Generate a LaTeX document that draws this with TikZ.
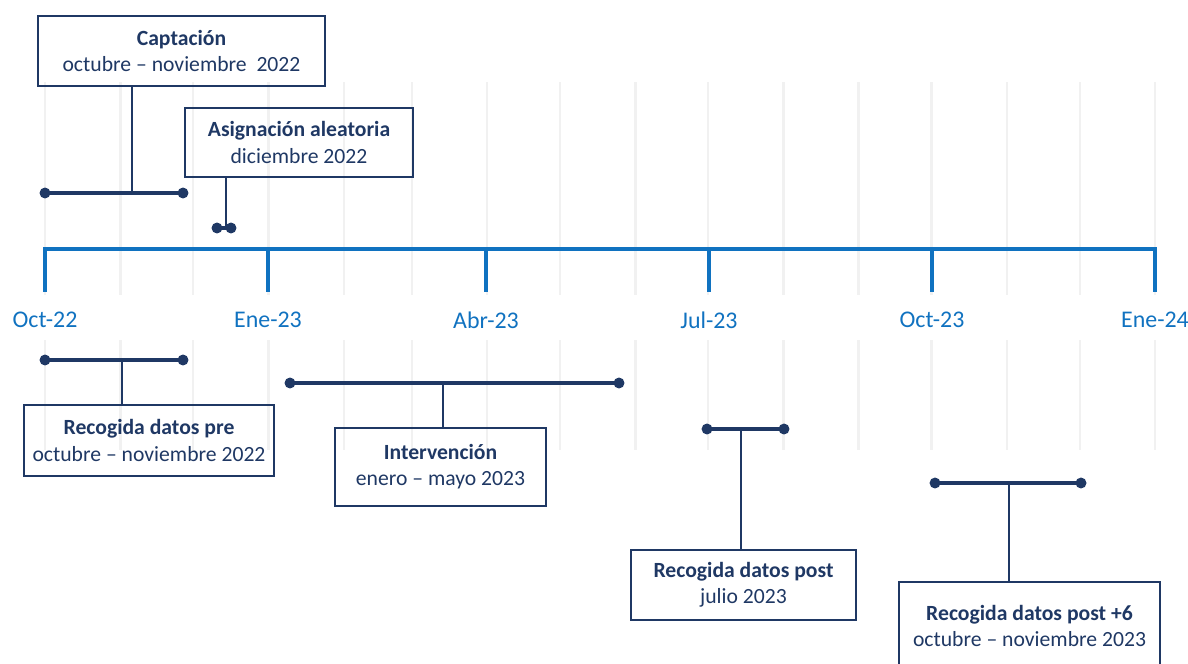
\documentclass[tikz,border=0pt]{standalone}
\usepackage{fontspec}
\setmainfont{Carlito}
\usetikzlibrary{positioning}
\definecolor{navy}{RGB}{31,56,100}
\definecolor{axisblue}{RGB}{16,114,192}
\definecolor{gridgray}{RGB}{241,241,241}

\begin{document}
\begin{tikzpicture}[x=0.025cm,y=-0.025cm,
      box/.style={rectangle,draw=navy,line width=1.4pt,text=navy,align=center,
        font=\fontsize{15.4}{18.6}\selectfont,inner sep=0pt},
      bar/.style={draw=navy,line width=2.4pt},
      stem/.style={draw=navy,line width=1.3pt},
      dot/.style={fill=navy},
      lbl/.style={text=axisblue,font=\fontsize{17}{20}\selectfont}]
    \useasboundingbox (0,0) rectangle (1188,663);
    % month grid
    \foreach \d in {0,31,61,92,123,151,182,212,243,273,304,335,365,396,426,457}{
      \draw[gridgray,line width=1.8pt] (45+2.429*\d,82) -- (45+2.429*\d,295);
      \draw[gridgray,line width=1.8pt] (45+2.429*\d,340) -- (45+2.429*\d,450);
    }
    % axis
    \draw[axisblue,line width=2.5pt] (45,292) -- (45,249) -- (1155,249) -- (1155,292);
    \foreach \x/\t in {45/Oct-22,268/Ene-23,486/Abr-23,709/Jul-23,932/Oct-23,1155/Ene-24}{
      \draw[axisblue,line width=2.5pt] (\x,249) -- (\x,292);
      \node[lbl] at (\x,320) {\t};
    }
    % boxes
    \node[box,minimum width=287*0.025cm,minimum height=70*0.025cm] (capt) at (181.5,51)
      {\textbf{Captación}\\octubre -- noviembre\ \ 2022};
    \node[box,minimum width=228*0.025cm,minimum height=69*0.025cm] (asig) at (299,142.5)
      {\textbf{Asignación aleatoria}\\diciembre 2022};
    \node[box,minimum width=250*0.025cm,minimum height=71*0.025cm] (pre) at (149,440.5)
      {\textbf{Recogida datos pre}\\octubre -- noviembre 2022};
    \node[box,minimum width=211*0.025cm,minimum height=78*0.025cm] (interv) at (440.5,467)
      {\textbf{Intervención}\\enero -- mayo 2023};
    \node[box,minimum width=225*0.025cm,minimum height=70*0.025cm] (post) at (743.5,585)
      {\textbf{Recogida datos post}\\julio 2023};
    \node[box,minimum width=261*0.025cm,minimum height=88*0.025cm] (post6) at (1029.5,626)
      {\textbf{Recogida datos post +6}\\octubre -- noviembre 2023};
    % bars
    \foreach \n/\a/\b/\s/\y in {capt/45/183/132/193,asig/217/231/226/228,pre/45/183/122/360,
        interv/290/619/443/383,post/707/784/741/429,post6/935/1081/1009/483}{
      \coordinate (\n A) at (\a,\y);
      \coordinate (\n B) at (\b,\y);
      \coordinate (\n S) at (\s,\y);
      \draw[bar] (\n A) -- (\n B);
      \fill[dot] (\n A) circle[radius=3.9pt];
      \fill[dot] (\n B) circle[radius=3.9pt];
    }
    \draw[stem] (captS) -- (captS |- capt.south);
    \draw[stem] (asigS) -- (asigS |- asig.south);
    \draw[stem] (preS) -- (preS |- pre.north);
    \draw[stem] (intervS) -- (intervS |- interv.north);
    \draw[stem] (postS) -- (postS |- post.north);
    \draw[stem] (post6S) -- (post6S |- post6.north);
  \end{tikzpicture}
\end{document}
